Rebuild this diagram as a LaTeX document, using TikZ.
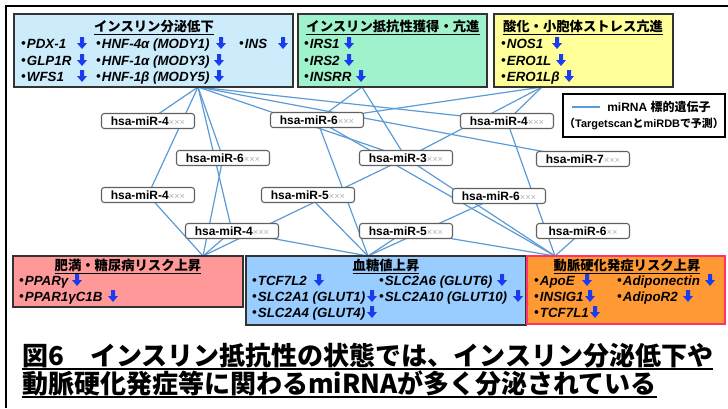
\documentclass[tikz,border=0pt]{standalone}
\usepackage{fontspec}
\setmainfont{Liberation Sans}
\newfontfamily\jp{Noto Sans CJK JP}
\usetikzlibrary{fit,backgrounds}
\definecolor{linkblue}{RGB}{91,155,213}
\definecolor{arrblue}{RGB}{25,60,240}
\definecolor{fillA}{RGB}{204,236,252}
\definecolor{fillB}{RGB}{160,242,204}
\definecolor{fillC}{RGB}{255,255,153}
\definecolor{fillD}{RGB}{255,153,153}
\definecolor{fillE}{RGB}{153,204,255}
\definecolor{fillF}{RGB}{255,153,51}
\definecolor{edgeF}{RGB}{255,51,102}
\newcommand\xxx{{\mdseries\color{gray!60}\fontsize{7}{8}\selectfont ×××}}
\newcommand\xxtwo{{\mdseries\color{gray!60}\fontsize{7}{8}\selectfont ××}}
\newcommand\bul{{\upshape\jp\makebox[5pt][c]{・}}}
\begin{document}
\begin{tikzpicture}[x=0.75pt,y=-0.75pt,
  gbox/.style={draw=black!80,line width=0.8pt,inner sep=0pt},
  mir/.style={draw=gray!75!black,fill=white,rounded corners=2pt,line width=0.8pt,
    minimum width=69.75pt,minimum height=11.25pt,inner sep=0pt,
    font=\bfseries\fontsize{9}{10}\selectfont},
  conn/.style={draw=linkblue,line width=0.9pt},
  gene/.style={anchor=base west,inner sep=0pt,font=\fontsize{10}{12}\selectfont\bfseries\itshape},
  ttl/.style={anchor=base,inner sep=0pt,font=\jp\bfseries\fontsize{10}{12}\selectfont},
  darr/.pic={\fill[arrblue] (0,1)--(5,-5)--(2,-5)--(2,-11)--(-2,-11)--(-2,-5)--(-5,-5)--cycle;}
]
\useasboundingbox (0,0) rectangle (728,408);
\draw[line width=2.2pt] (6,408) -- (6,6) -- (728,6);

% top boxes
\node[gbox,fill=fillA,fit={(14,14) (293,87)}] (b1) {};
\node[gbox,fill=fillB,fit={(298,14) (487,87)}] (b2) {};
\node[gbox,fill=fillC,fit={(494,14) (673,87)}] (b3) {};
% bottom boxes
\node[gbox,fill=fillD,fit={(13,256) (243,307)}] (b4) {};
\node[gbox,fill=fillE,fit={(246,256) (526,325)}] (b5) {};
\node[gbox,fill=fillF,draw=edgeF,line width=1.3pt,fit={(527,256) (725,324)}] (b6) {};

% hubs
\coordinate (hA) at (198,87);
\coordinate (hB) at (362,87);
\coordinate (hC) at (542,87);
\coordinate (hD) at (203,256);
\coordinate (hE) at (368,256);
\coordinate (hF) at (555,256);

% box 1
\node[ttl] (t1) at (154,31) {\underline{インスリン分泌低下}};
\node[gene] (g1a) at (20,48) {\bul PDX-1};   \pic at (82,48) {darr};
\node[gene] (g1b) at (20,65) {\bul GLP1R};   \pic at (82,65) {darr};
\node[gene] (g1c) at (20,81) {\bul WFS1};    \pic at (82,81) {darr};
\node[gene] (g1d) at (95,48) {\bul HNF-4α (MODY1)}; \pic at (221,48) {darr};
\node[gene] (g1e) at (95,65) {\bul HNF-1α (MODY3)}; \pic at (219,65) {darr};
\node[gene] (g1f) at (95,81) {\bul HNF-1β (MODY5)}; \pic at (219,81) {darr};
\node[gene] (g1g) at (238,48) {\bul INS};    \pic at (283,48) {darr};
% box 2
\node[ttl] (t2) at (393,31) {\underline{インスリン抵抗性獲得・亢進}};
\node[gene] (g2a) at (303,48) {\bul IRS1};  \pic at (349,48) {darr};
\node[gene] (g2b) at (303,65) {\bul IRS2};  \pic at (349,65) {darr};
\node[gene] (g2c) at (303,81) {\bul INSRR}; \pic at (361,81) {darr};
% box 3
\node[ttl] (t3) at (583,31) {\underline{酸化・小胞体ストレス亢進}};
\node[gene] (g3a) at (500,48) {\bul NOS1};   \pic at (557,48) {darr};
\node[gene] (g3b) at (500,65) {\bul ERO1L};  \pic at (561,65) {darr};
\node[gene] (g3c) at (500,81) {\bul ERO1Lβ}; \pic at (569,81) {darr};
% box 4
\node[ttl] (t4) at (128,270) {\underline{肥満・糖尿病リスク上昇}};
\node[gene] (g4a) at (18,285) {\bul PPARγ};     \pic at (77,285) {darr};
\node[gene] (g4b) at (18,301) {\bul PPAR1γC1B}; \pic at (113,301) {darr};
% box 5
\node[ttl] (t5) at (386,270) {\underline{血糖値上昇}};
\node[gene] (g5a) at (251,285) {\bul TCF7L2};          \pic at (319,285) {darr};
\node[gene] (g5b) at (251,301) {\bul SLC2A1 (GLUT1)};  \pic at (372,301) {darr};
\node[gene] (g5c) at (251,317) {\bul SLC2A4 (GLUT4)};  \pic at (372,317) {darr};
\node[gene] (g5d) at (378,285) {\bul SLC2A6 (GLUT6)};  \pic at (502,285) {darr};
\node[gene] (g5e) at (378,301) {\bul SLC2A10 (GLUT10)};\pic at (518,301) {darr};
% box 6
\node[ttl] (t6) at (627,270) {\underline{動脈硬化発症リスク上昇}};
\node[gene] (g6a) at (533,285) {\bul ApoE};        \pic at (587,285) {darr};
\node[gene] (g6b) at (533,301) {\bul INSIG1};      \pic at (590,301) {darr};
\node[gene] (g6c) at (533,317) {\bul TCF7L1};      \pic at (595,317) {darr};
\node[gene] (g6d) at (616,285) {\bul Adiponectin}; \pic at (710,285) {darr};
\node[gene] (g6e) at (616,301) {\bul AdipoR2};     \pic at (688,301) {darr};

% miRNA nodes
\node[mir] (m1)  at (148,121) {hsa-miR-4\xxx};
\node[mir] (m2)  at (317,120) {hsa-miR-6\xxx};
\node[mir] (m3)  at (507,121) {hsa-miR-4\xxx};
\node[mir] (m4)  at (223,158) {hsa-miR-6\xxx};
\node[mir] (m5)  at (406,158) {hsa-miR-3\xxx};
\node[mir] (m6)  at (583,159) {hsa-miR-7\xxx};
\node[mir] (m7)  at (148,195) {hsa-miR-4\xxx};
\node[mir] (m8)  at (308,195) {hsa-miR-5\xxx};
\node[mir] (m9)  at (499,196) {hsa-miR-6\xxx};
\node[mir] (m10) at (232,231) {hsa-miR-4\xxx};
\node[mir] (m11) at (406,231) {hsa-miR-5\xxx};
\node[mir] (m12) at (583,231) {hsa-miR-6\xxtwo};

% connectors
\begin{scope}[on background layer]
\foreach \m in {m1,m3,m4,m5,m6,m7,m10} \draw[conn] (hA) -- (\m.center);
\foreach \m in {m2,m5} \draw[conn] (hB) -- (\m.center);
\foreach \m in {m2,m3,m5} \draw[conn] (hC) -- (\m.center);
\foreach \m in {m4,m5,m7,m10} \draw[conn] (hD) -- (\m.center);
\foreach \m in {m2,m8,m9,m10,m11} \draw[conn] (hE) -- (\m.center);
\foreach \m in {m2,m3,m5,m11,m12} \draw[conn] (hF) -- (\m.center);
\end{scope}

% legend
\node[draw=black,line width=2pt,fill=white,fit={(563,94) (725,137)},inner sep=0pt] (leg) {};
\coordinate (lgA) at (572,107);
\coordinate (lgB) at (600,107);
\draw[conn] (lgA) -- (lgB);
\node[anchor=west,inner sep=0pt,font=\bfseries\fontsize{9}{10}\selectfont] (lg1) at (607,107) {miRNA {\jp 標的遺伝子}};
\node[anchor=center,inner sep=0pt,font=\bfseries\fontsize{8.2}{10}\selectfont] (lg2) at (644,124) {{\jp （}Targetscan{\jp と}miRDB{\jp で予測）}};

% caption
\node[anchor=base west,inner sep=0pt,font=\jp\bfseries\fontsize{19.5}{22}\selectfont] (cap1) at (22,365) {図6　インスリン抵抗性の状態では、インスリン分泌低下や};
\node[anchor=base west,inner sep=0pt,font=\jp\bfseries\fontsize{19.5}{22}\selectfont] (cap2) at (22,393) {動脈硬化発症等に関わるmiRNAが多く分泌されている};
\draw[line width=1.4pt] ([yshift=-3pt]cap1.base west) -- ([yshift=-3pt]cap1.base east);
\draw[line width=1.4pt] ([yshift=-3pt]cap2.base west) -- ([yshift=-3pt]cap2.base east);
\end{tikzpicture}
\end{document}
